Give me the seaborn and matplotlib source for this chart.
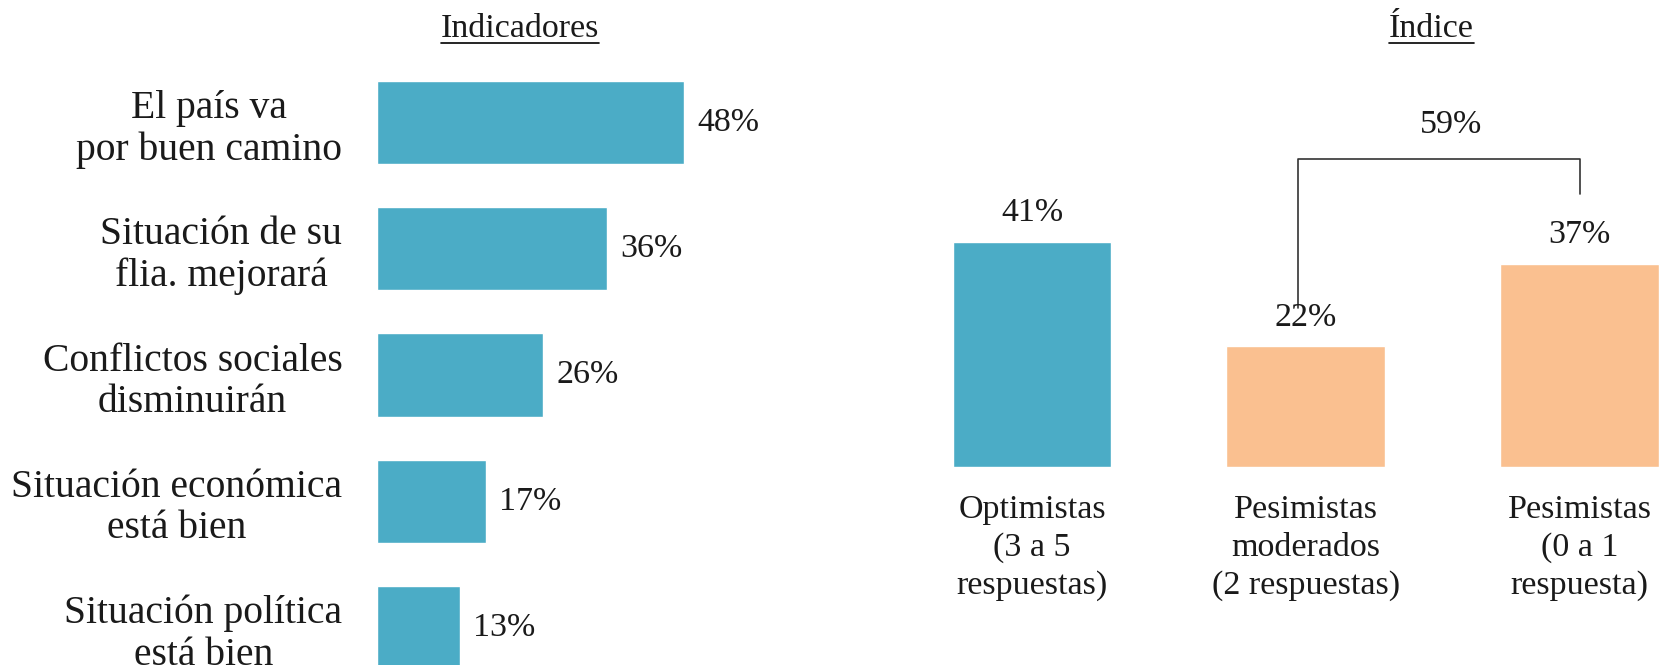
import matplotlib
matplotlib.use('Agg')
import pandas as pd
import matplotlib.pyplot as plt
import seaborn as sns

# Indicadores
indicadores = ['El país va\npor buen camino',
               'Situación de su\nflia. mejorará',
               'Conflictos sociales\ndisminuirán',
               'Situación económica\nestá bien',
               'Situación política\nestá bien']
ind_vals = [48, 36, 26, 17, 13]

# Índice
grupos = ['Optimistas\n(3 a 5\nrespuestas)',
          'Pesimistas\nmoderados\n(2 respuestas)',
          'Pesimistas\n(0 a 1\nrespuesta)']
grp_vals = [41, 22, 37]
grp_colors = ['#4BACC6', '#FAC090', '#FAC090']
pesimistas_total = 59

sns.set_theme(style='white')
plt.rcParams['font.family'] = ['Liberation Serif', 'DejaVu Serif']
FS = 24.5
FS_CAT = 28.5

W, H = 1664, 665
fig = plt.figure(figsize=(W / 100, H / 100), dpi=100)

# left: horizontal bars
ax1 = fig.add_axes([377 / W, -25.8 / H, 384 / W, 631.5 / H])
df1 = pd.DataFrame({'indicador': indicadores, 'valor': ind_vals})
sns.barplot(data=df1, y='indicador', x='valor', color='#4BACC6',
            saturation=1, width=0.66, orient='h', ax=ax1)
ax1.set_xlim(0, 60)
ax1.set_ylim(4.5, -0.5)
ax1.set_xlabel('')
ax1.set_ylabel('')
ax1.set_xticks([])
ax1.tick_params(axis='y', length=0, pad=25, labelsize=FS_CAT, labelcolor='#1a1a1a')
for lab in ax1.get_yticklabels():
    lab.set_multialignment('center')
    lab.set_linespacing(1.16)
for i, v in enumerate(ind_vals):
    ax1.annotate(f'{v}%', (v, i), xytext=(13, 0), textcoords='offset pixels',
                 ha='left', va='center', fontsize=FS, color='#1a1a1a',
                 annotation_clip=False)
sns.despine(ax=ax1, left=True, bottom=True)

# right: vertical bars
ax2 = fig.add_axes([895 / W, 198 / H, 767 / W, 384 / H])
df2 = pd.DataFrame({'grupo': grupos, 'valor': grp_vals})
sns.barplot(data=df2, x='grupo', y='valor', hue='grupo', palette=grp_colors,
            saturation=1, width=0.58, legend=False, ax=ax2)
ax2.set_xlim(-0.5, 2.3)
ax2.set_ylim(0, 70)
ax2.set_xlabel('')
ax2.set_ylabel('')
ax2.set_yticks([])
ax2.tick_params(axis='x', length=0, pad=20, labelsize=FS, labelcolor='#1a1a1a')
for lab in ax2.get_xticklabels():
    lab.set_linespacing(1.3)
for i, v in enumerate(grp_vals):
    ax2.annotate(f'{v}%', (i, v), xytext=(0, 29), textcoords='offset pixels',
                 ha='center', va='center', fontsize=FS, color='#1a1a1a',
                 annotation_clip=False)
sns.despine(ax=ax2, left=True, bottom=True)

# bracket for pesimistas
bx = [0.97, 0.97, 2.0, 2.0]
by = [29.0, 56.1, 56.1, 49.7]
ax2.plot(bx, by, color='#333333', lw=1.2, clip_on=False)
ax2.text(1.53, 62.3, f'{pesimistas_total}%', ha='center', va='center',
         fontsize=FS, color='#1a1a1a')

# underlined titles
titles = [('Indicadores', 490 * 1664 / 1568), ('Índice', 1349 * 1664 / 1568)]
fig.canvas.draw()
r = fig.canvas.get_renderer()
for txt, xc in titles:
    t = fig.text(xc / W, 1 - 29 / H, txt, ha='center', va='center',
                 fontsize=FS, color='#1a1a1a')
    bb = t.get_window_extent(renderer=r)
    yl = bb.y0 + 1
    fig.add_artist(plt.Line2D([bb.x0 / W, bb.x1 / W], [yl / H, yl / H],
                              color='black', lw=1.2))

fig.savefig('out.png', dpi=100)
